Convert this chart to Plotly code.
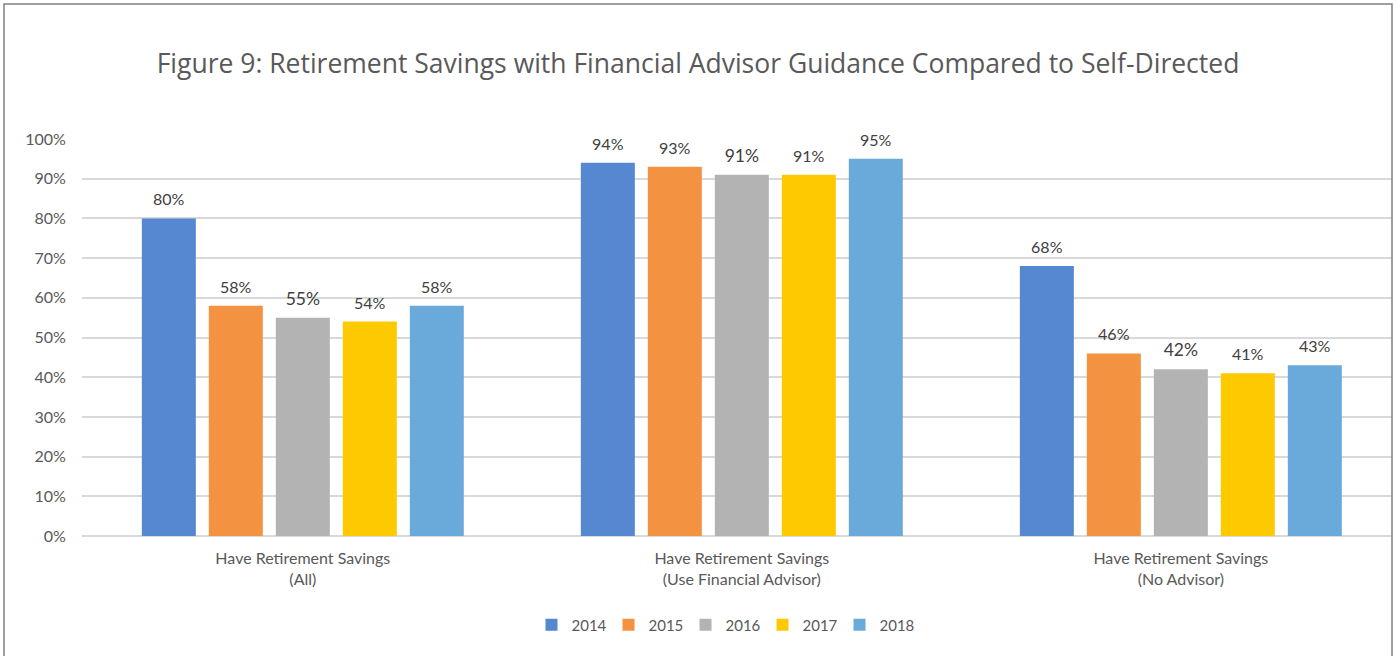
import plotly.graph_objects as go

categories = ["Have Retirement Savings<br>(All)",
              "Have Retirement Savings<br>(Use Financial Advisor)",
              "Have Retirement Savings<br>(No Advisor)"]
years = ["2014", "2015", "2016", "2017", "2018"]
values = {
    "2014": [80, 94, 68],
    "2015": [58, 93, 46],
    "2016": [55, 91, 42],
    "2017": [54, 91, 41],
    "2018": [58, 95, 43],
}
colors = {
    "2014": "#5588D0",
    "2015": "#F39240",
    "2016": "#B3B3B3",
    "2017": "#FFC900",
    "2018": "#6AAADB",
}
label_sizes = {"2014": 16, "2015": 16, "2016": 17.5, "2017": 16, "2018": 16}

fig = go.Figure()
for y in years:
    fs = label_sizes[y]
    fig.add_trace(go.Bar(
        name=y,
        x=categories,
        y=values[y],
        marker=dict(color=colors[y], line=dict(width=0)),
        text=[f"<span style='font-size:{fs}px'>{v}%</span><br> " for v in values[y]],
        textposition="outside",
        textfont=dict(family="Lato", size=7, color="#404040"),
        cliponaxis=False,
        hoverinfo="skip",
    ))

W, H = 1396, 656
ml, mr, mt, mb = 82, 4, 139, 120
pw, ph = W - ml - mr, H - mt - mb

def px(x):
    return (x - ml) / pw

def py(yp):
    return (H - mb - yp) / ph

fig.update_layout(
    width=W, height=H,
    margin=dict(l=ml, r=mr, t=mt, b=mb),
    paper_bgcolor="white",
    plot_bgcolor="white",
    barmode="group",
    bargap=0.237,
    bargroupgap=0.194,
    title=dict(
        text="Figure 9: Retirement Savings with Financial Advisor Guidance Compared to Self-Directed",
        x=0.5, xanchor="center", y=1 - 64 / H, yanchor="middle",
        font=dict(family="Open Sans", size=26.5, color="#595959"),
    ),
    legend=dict(
        orientation="h", xanchor="center", x=px(724), yanchor="middle", y=py(625),
        font=dict(family="Lato", size=15, color="#595959"),
        itemwidth=30, traceorder="normal",
        entrywidth=32, entrywidthmode="pixels",
    ),
    xaxis=dict(
        range=[-0.503, 2.481],
        showgrid=False, showline=False, zeroline=False,
        ticks="outside", ticklen=8, tickcolor="rgba(0,0,0,0)",
        tickfont=dict(family="Lato", size=16, color="#595959"),
    ),
    yaxis=dict(
        range=[0, 100], dtick=10, ticksuffix="%",
        showgrid=True, gridcolor="#D9D9D9", gridwidth=2,
        zeroline=True, zerolinecolor="#D9D9D9", zerolinewidth=2,
        showline=False,
        ticks="outside", ticklen=12, tickcolor="rgba(0,0,0,0)",
        tickfont=dict(family="Lato", size=16, color="#595959"),
    ),
    font=dict(family="Lato", color="#595959"),
    shapes=[dict(
        type="rect", xref="paper", yref="paper",
        x0=px(4), x1=px(1392), y0=py(700), y1=py(4),
        line=dict(color="#808080", width=1.5), fillcolor="rgba(0,0,0,0)",
        layer="above",
    )],
)

fig.write_html("out.html", config={"displayModeBar": False},
               post_script="document.body.style.margin='0px';")
